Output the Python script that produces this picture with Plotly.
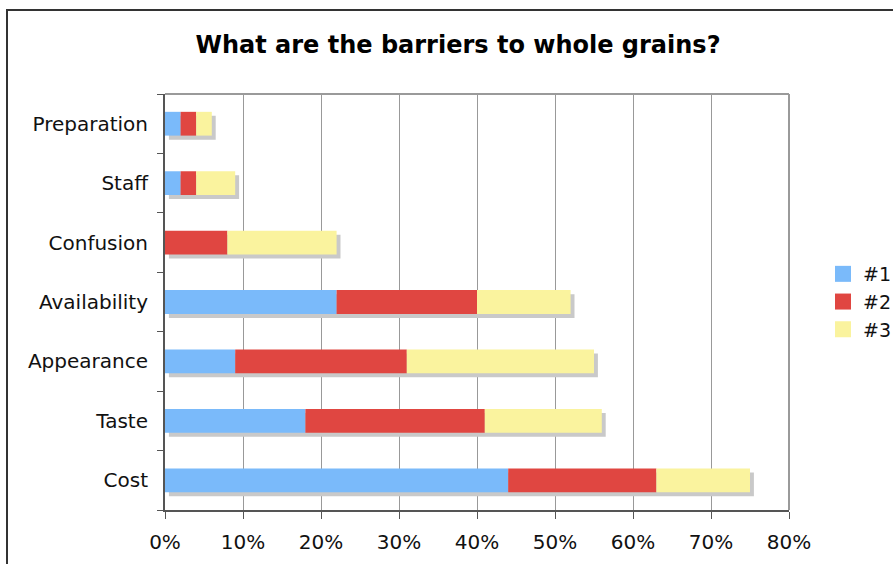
import plotly.graph_objects as go

categories = ["Cost", "Taste", "Appearance", "Availability", "Confusion", "Staff", "Preparation"]
rank1 = [44, 18, 9, 22, 0, 2, 2]
rank2 = [19, 23, 22, 18, 8, 2, 2]
rank3 = [12, 15, 24, 12, 14, 5, 2]
series_names = ["#1", "#2", "#3"]
colors = ["#7ABAFA", "#E04641", "#FAF39E"]
x_ticks = [0, 10, 20, 30, 40, 50, 60, 70, 80]
x_tick_labels = [f"{v}%" for v in x_ticks]

W, H = 893, 564
ML, MR, MT, MB = 165, 104, 94, 54
PW, PH = W - ML - MR, H - MT - MB

totals = [a + b + c for a, b, c in zip(rank1, rank2, rank3)]
bar_w = 0.40
shadow_dx = 0.5       # in % units (about 4px)
shadow_dy = 0.068     # in category units (about 4px)

fig = go.Figure()

# drop shadow behind each full bar
fig.add_trace(go.Bar(
    y=categories, x=totals, base=[shadow_dx] * len(categories),
    orientation="h", width=bar_w, offset=-bar_w / 2 - shadow_dy,
    marker=dict(color="#C9C9C9", line=dict(width=0)),
    showlegend=False, hoverinfo="skip",
))

bases = [0] * len(categories)
for name, vals, col in zip(series_names, [rank1, rank2, rank3], colors):
    fig.add_trace(go.Bar(
        y=categories, x=vals, base=list(bases), name=name,
        orientation="h", width=bar_w, offset=-bar_w / 2,
        marker=dict(color=col, line=dict(width=0)),
        legendgroup=name, showlegend=False,
    ))
    bases = [b + v for b, v in zip(bases, vals)]

# legend entries with larger square swatches
for name, col in zip(series_names, colors):
    fig.add_trace(go.Scatter(
        x=[None], y=[None], mode="markers", name=name, legendgroup=name,
        marker=dict(symbol="square", size=16, color=col, line=dict(width=0)),
    ))

def px_x(p):
    return (p - ML) / PW

def px_y(p):
    return (H - MB - p) / PH

# outer frame
fig.add_shape(type="rect", xref="paper", yref="paper",
              x0=px_x(7), x1=px_x(910), y0=px_y(580), y1=px_y(10),
              line=dict(color="#333333", width=2), layer="below")
# lighter top and right border of the plot box
fig.add_shape(type="line", xref="paper", yref="paper", x0=0, x1=1, y0=1, y1=1,
              line=dict(color="#9A9A9A", width=2), layer="above")
fig.add_shape(type="line", xref="paper", yref="paper", x0=1, x1=1, y0=0, y1=1,
              line=dict(color="#9A9A9A", width=2), layer="above")

fig.update_layout(
    width=W, height=H,
    margin=dict(l=ML, r=MR, t=MT, b=MB, autoexpand=False),
    paper_bgcolor="white", plot_bgcolor="white",
    barmode="overlay",
    font=dict(family="DejaVu Sans", size=20, color="#111111"),
    title=dict(text="<b>What are the barriers to whole grains?</b>",
               x=458 / W, xref="container", xanchor="center",
               y=1 - 45 / H, yref="container", yanchor="middle",
               font=dict(family="DejaVu Sans", size=24, color="#000000")),
    legend=dict(x=px_x(823), xanchor="left", y=0.5, yanchor="middle",
                font=dict(size=19), traceorder="normal",
                bgcolor="rgba(0,0,0,0)", itemwidth=30),
    xaxis=dict(range=[0, 80], tickmode="array", tickvals=x_ticks, ticktext=x_tick_labels,
               showgrid=True, gridcolor="#999999", gridwidth=1,
               showline=True, linecolor="#555555", linewidth=2,
               ticks="outside", ticklen=7, tickcolor="#555555",
               ticklabelstandoff=6,
               zeroline=False, tickfont=dict(size=20), automargin=False),
    yaxis=dict(categoryorder="array", categoryarray=categories,
               range=[-0.5, len(categories) - 0.5],
               showgrid=False, showline=True, linecolor="#555555", linewidth=2,
               ticks="outside", ticklen=6, tickcolor="#555555",
               tickson="boundaries", ticklabelstandoff=11,
               tickfont=dict(size=20), automargin=False),
)

fig.write_html("out.html", config={"displayModeBar": False},
               post_script="document.body.style.margin='0px';document.body.style.padding='0px';")
